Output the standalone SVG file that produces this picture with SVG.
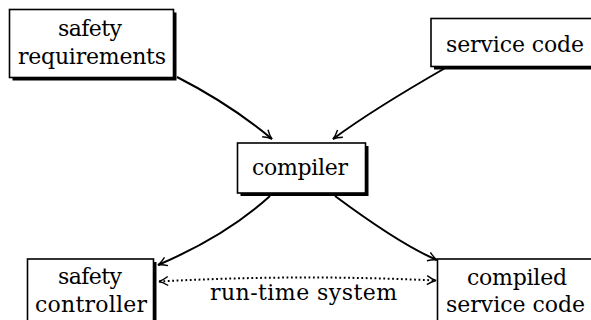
<svg xmlns="http://www.w3.org/2000/svg" width="591" height="320" viewBox="0 0 591 320">
<style>
.box{fill:#fff;stroke:#000;stroke-width:1.6}
.shadow{fill:#000;stroke:none}
.lbl{font-family:'DejaVu Serif',serif;font-size:22px;fill:#000}
.edge{fill:none;stroke:#000;stroke-width:2}
.dot{fill:none;stroke:#000;stroke-width:2;stroke-dasharray:1.8 2.6}
</style>
<defs>
<marker id="ah" markerUnits="userSpaceOnUse" markerWidth="14" markerHeight="14" viewBox="-12 -7 14 14" refX="0" refY="0" orient="auto-start-reverse">
<path d="M-9,-4.5 Q-4,-1 0,0 Q-4,1 -9,4.5" fill="none" stroke="#000" stroke-width="1.4" stroke-dasharray="none"/>
</marker>
</defs>
<rect width="591" height="320" fill="#fff"/>
<g id="connectors">
<path class="edge" d="M177,77 Q230,104 272,139" marker-end="url(#ah)"/>
<path class="edge" d="M447,67 Q372,110 333,139" marker-end="url(#ah)"/>
<path class="edge" d="M270,196 Q226,236 158,265" marker-end="url(#ah)"/>
<path class="edge" d="M335,196 Q401,245 437,260" marker-end="url(#ah)"/>
<path class="dot" d="M159,281.5 Q298,274 436,280.5" marker-start="url(#ah)" marker-end="url(#ah)"/>
<text class="lbl" x="210" y="300" textLength="187" lengthAdjust="spacing">run-time system</text>
</g>
<g id="safety-requirements">
<rect class="shadow" x="12.5" y="12.5" width="164" height="68"/>
<rect class="box" x="9.5" y="9.5" width="164" height="68"/>
<text class="lbl" x="58" y="36" textLength="64" lengthAdjust="spacing">safety</text>
<text class="lbl" x="18" y="64" textLength="148" lengthAdjust="spacing">requirements</text>
</g>
<g id="service-code">
<rect class="shadow" x="434" y="21.5" width="170" height="48"/>
<rect class="box" x="431" y="18.5" width="170" height="48"/>
<text class="lbl" x="446" y="52" textLength="138" lengthAdjust="spacing">service code</text>
</g>
<g id="compiler">
<rect class="shadow" x="240.5" y="146" width="128" height="50"/>
<rect class="box" x="237.5" y="143" width="128" height="50"/>
<text class="lbl" x="252" y="175" textLength="96" lengthAdjust="spacing">compiler</text>
</g>
<g id="safety-controller">
<rect class="shadow" x="30.5" y="262" width="126" height="80"/>
<rect class="box" x="27.5" y="259" width="126" height="80"/>
<text class="lbl" x="58" y="284" textLength="64" lengthAdjust="spacing">safety</text>
<text class="lbl" x="35" y="312" textLength="112" lengthAdjust="spacing">controller</text>
</g>
<g id="compiled-service-code">
<rect class="shadow" x="440.5" y="262" width="170" height="80"/>
<rect class="box" x="437.5" y="259" width="170" height="80"/>
<text class="lbl" x="467" y="285" textLength="100" lengthAdjust="spacing">compiled</text>
<text class="lbl" x="446" y="312" textLength="139" lengthAdjust="spacing">service code</text>
</g>
</svg>
